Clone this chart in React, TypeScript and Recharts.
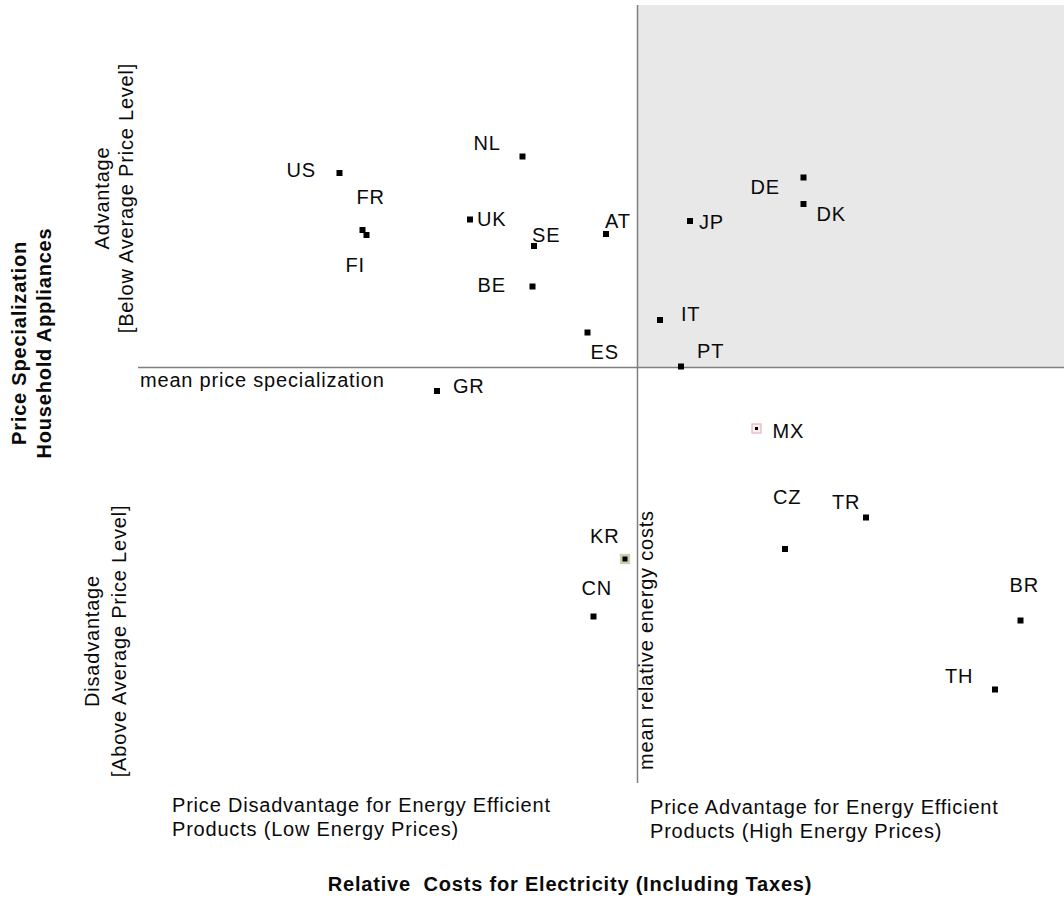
import React from 'react';
import { ScatterChart, Scatter, XAxis, YAxis, ReferenceArea, ReferenceLine, Customized } from 'recharts';

// Countries and their positions (index units, mean = 100)
const countries = ['US', 'NL', 'FR', 'FI', 'UK', 'SE', 'AT', 'BE', 'ES', 'JP', 'DE', 'DK', 'IT', 'PT', 'GR', 'MX', 'CZ', 'TR', 'KR', 'CN', 'BR', 'TH'];
const electricityCost = [40.4, 77.0, 45.0, 45.8, 66.5, 79.3, 93.7, 79.0, 90.0, 110.5, 133.2, 133.2, 104.5, 108.7, 59.9, 123.8, 129.5, 145.7, 97.5, 91.2, 176.6, 171.5];
const priceSpecialization = [138.9, 142.2, 127.5, 126.5, 129.6, 124.3, 126.7, 116.2, 107.0, 129.3, 138.0, 132.7, 109.5, 100.2, 95.3, 87.8, 63.7, 70.0, 61.7, 50.2, 49.4, 35.6];
const meanCost = 100;
const meanSpecialization = 100;
const xDomain = [0.1, 185.3];
const yDomain = [16.9, 172.5];

// label placement relative to marker (layout only)
const labelOffset: Record<string, [number, number]> = {
  US: [-53, 4], NL: [-49, -7], FR: [-6, -26], FI: [-21, 37], UK: [7, 6], SE: [-2, -4],
  AT: [-1, -6], BE: [-55, 5], ES: [3, 26], JP: [9, 8], DE: [-53, 16], DK: [13, 17],
  IT: [21, 1], PT: [16, -9], GR: [16, 2], MX: [16, 9], CZ: [-12, -45], TR: [-34, -9],
  KR: [-35, -16], CN: [-12, -22], BR: [-11, -29], TH: [-50, -7],
};
const ringColor: Record<string, string> = { KR: '#c4d2ac', MX: '#e4b4bc' };

const data = countries.map((name, i) => ({ name, x: electricityCost[i], y: priceSpecialization[i] }));

const FONT = "'Liberation Sans', Arial, Helvetica, sans-serif";
const txt = { fontFamily: FONT, fontSize: 20, letterSpacing: 0.8, fill: '#0a0a0a', style: { whiteSpace: 'pre' as const } };
const bold = { ...txt, fontWeight: 700 };

const Marker = (props: any) => {
  const { cx, cy, payload } = props;
  if (cx == null || cy == null) return null;
  const [dx, dy] = labelOffset[payload.name] || [8, 6];
  const ring = ringColor[payload.name];
  const inner = payload.name === 'MX' ? 3 : payload.name === 'KR' ? 5 : 6;
  return (
    <g>
      {ring && <rect x={cx - 4.5} y={cy - 4.5} width={9} height={9} fill={payload.name === 'KR' ? ring : '#fbeef0'} stroke={ring} strokeWidth={1.2} />}
      <rect x={cx - inner / 2} y={cy - inner / 2} width={inner} height={inner} fill="#000" />
      <text x={cx + dx} y={cy + dy} {...txt}>{payload.name}</text>
    </g>
  );
};

const Annotations = () => (
  <g>
    <text x={726} y={39} {...txt}>higher  addiction to energy</text>
    <text x={726} y={64} {...txt}>efficient  household appliances</text>
    <text x={140} y={387} {...txt}>mean price specialization</text>
    <text transform="translate(652.5,640) rotate(-90)" x={0} y={0} textAnchor="middle" {...txt}>mean relative energy costs</text>
    <text x={172} y={812} {...txt}>Price Disadvantage for Energy Efficient</text>
    <text x={172} y={836} {...txt}>Products (Low Energy Prices)</text>
    <text x={650} y={814} {...txt}>Price Advantage for Energy Efficient</text>
    <text x={650} y={838} {...txt}>Products (High Energy Prices)</text>
    <text x={570} y={891} textAnchor="middle" {...bold}>Relative  Costs for Electricity (Including Taxes)</text>
    <text transform="translate(26,343) rotate(-90)" textAnchor="middle" {...bold}>
      <tspan x={0} y={0}>Price Specialization</tspan>
      <tspan x={0} y={25}>Household Appliances</tspan>
    </text>
    <text transform="translate(109,198) rotate(-90)" textAnchor="middle" {...txt}>
      <tspan x={0} y={0}>Advantage</tspan>
      <tspan x={0} y={24}>[Below Average Price Level]</tspan>
    </text>
    <text transform="translate(99,641) rotate(-90)" textAnchor="middle" {...txt}>
      <tspan x={0} y={0}>Disadvantage</tspan>
      <tspan x={0} y={27}>[Above Average Price Level]</tspan>
    </text>
  </g>
);

export default function App() {
  return (
    <div style={{ position: 'absolute', left: 0, top: 0, width: 1064, height: 906, background: '#fff' }}>
      <ScatterChart width={1064} height={906} margin={{ top: 5, right: 0, bottom: 123, left: 138 }}>
        <XAxis type="number" dataKey="x" domain={xDomain} hide allowDataOverflow />
        <YAxis type="number" dataKey="y" domain={yDomain} hide allowDataOverflow />
        <ReferenceArea x1={meanCost} x2={xDomain[1]} y1={meanSpecialization} y2={yDomain[1]} fill="#e8e8e8" fillOpacity={1} stroke="none" />
        <ReferenceLine x={meanCost} stroke="#7f7f7f" strokeWidth={1.5} />
        <ReferenceLine y={meanSpecialization} stroke="#7f7f7f" strokeWidth={1.5} />
        <Scatter data={data} shape={<Marker />} isAnimationActive={false} />
        <Customized component={Annotations} />
      </ScatterChart>
    </div>
  );
}
